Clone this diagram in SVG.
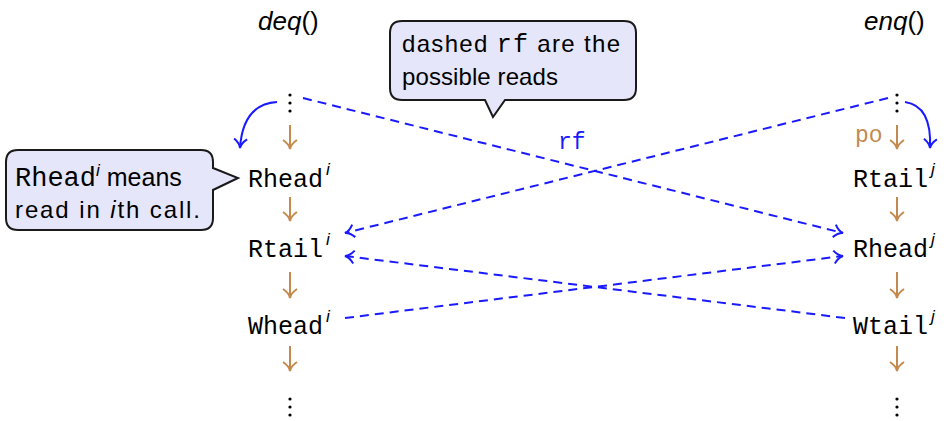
<svg xmlns="http://www.w3.org/2000/svg" width="946" height="421" viewBox="0 0 946 421">
<defs>
<marker id="ob" viewBox="0 0 16 16" refX="14" refY="8" markerWidth="16" markerHeight="16" markerUnits="userSpaceOnUse" orient="auto">
<path d="M5,1 Q9,7 14,8 Q9,9 5,15" fill="none" stroke="#c4894d" stroke-width="2"/>
</marker>
<marker id="bb" viewBox="0 0 16 16" refX="14" refY="8" markerWidth="16" markerHeight="16" markerUnits="userSpaceOnUse" orient="auto">
<path d="M5,1.5 Q9,7 14,8 Q9,9 5,14.5" fill="none" stroke="#1a1aff" stroke-width="2"/>
</marker>
</defs>
<style>
.tt{font-family:"Liberation Mono","DejaVu Sans Mono",monospace;font-size:25px;fill:#000}
.sf{font-family:"Liberation Sans","DejaVu Sans",sans-serif;font-size:24px;fill:#000}
.ti{font-family:"Liberation Sans","DejaVu Sans",sans-serif;font-size:26px;fill:#000}
.it{font-style:italic}
.sup{font-family:"Liberation Sans","DejaVu Sans",sans-serif;font-style:italic;font-size:17px}
.po{stroke:#c4894d;stroke-width:2;fill:none}
.rf{stroke:#1a1aff;stroke-width:2;fill:none;stroke-dasharray:9 6}
.cv{stroke:#1a1aff;stroke-width:2;fill:none}
.dot{fill:#000}
.call{fill:#e6e6fa;stroke:#1a1a1a;stroke-width:2}
</style>
<rect width="946" height="421" fill="#fff"/>

<g id="titles">
<text class="ti" x="258" y="30"><tspan class="it">deq</tspan>()</text>
<text class="ti" x="864" y="30"><tspan class="it">enq</tspan>()</text>
</g>

<g id="callout-rf">
<path class="call" d="M402,21 H624 Q636,21 636,33 V88 Q636,100 624,100 H505 L493,117 L485,100 H402 Q390,100 390,88 V33 Q390,21 402,21 Z"/>
<text class="sf" x="402" y="52" textLength="218">dashed <tspan class="tt">rf</tspan> are the</text>
<text class="sf" x="402" y="85" textLength="156">possible reads</text>
</g>

<g id="callout-rhead">
<path class="call" d="M18,150 H201 Q213,150 213,162 V168 L238,178 L213,190 V218 Q213,230 201,230 H18 Q6,230 6,218 V162 Q6,150 18,150 Z"/>
<text class="sf" x="15" y="186"><tspan class="tt" style="font-size:27px">Rhead</tspan><tspan class="sup" dy="-10">i</tspan><tspan dy="10" style="font-size:25px"> means</tspan></text>
<text class="sf" x="15" y="218" textLength="185">read in <tspan class="it">i</tspan>th call.</text>
</g>

<g id="left-top-dots">
<circle class="dot" cx="290" cy="95" r="1.6"/><circle class="dot" cx="290" cy="103" r="1.6"/><circle class="dot" cx="290" cy="111" r="1.6"/>
</g>
<g id="rhead-i"><text class="tt" x="248" y="187">Rhead</text><text class="sup" x="326" y="175">i</text></g>
<g id="rtail-i"><text class="tt" x="248" y="257">Rtail</text><text class="sup" x="326" y="245">i</text></g>
<g id="whead-i"><text class="tt" x="248" y="334">Whead</text><text class="sup" x="326" y="322">i</text></g>
<g id="left-bottom-dots">
<circle class="dot" cx="290" cy="399" r="1.6"/><circle class="dot" cx="290" cy="407" r="1.6"/><circle class="dot" cx="290" cy="415" r="1.6"/>
</g>

<g id="right-top-dots">
<circle class="dot" cx="897" cy="95" r="1.6"/><circle class="dot" cx="897" cy="103" r="1.6"/><circle class="dot" cx="897" cy="111" r="1.6"/>
</g>
<g id="rtail-j"><text class="tt" x="853" y="187">Rtail</text><text class="sup" x="931" y="175">j</text></g>
<g id="rhead-j"><text class="tt" x="853" y="257">Rhead</text><text class="sup" x="931" y="245">j</text></g>
<g id="wtail-j"><text class="tt" x="853" y="334">Wtail</text><text class="sup" x="931" y="322">j</text></g>
<g id="right-bottom-dots">
<circle class="dot" cx="897" cy="399" r="1.6"/><circle class="dot" cx="897" cy="407" r="1.6"/><circle class="dot" cx="897" cy="415" r="1.6"/>
</g>

<g id="connectors">
<line class="po" x1="290" y1="125" x2="290" y2="149" marker-end="url(#ob)"/>
<line class="po" x1="290" y1="197" x2="290" y2="221" marker-end="url(#ob)"/>
<line class="po" x1="290" y1="272" x2="290" y2="298" marker-end="url(#ob)"/>
<line class="po" x1="290" y1="346" x2="290" y2="371" marker-end="url(#ob)"/>
<line class="po" x1="897" y1="125" x2="897" y2="149" marker-end="url(#ob)"/>
<line class="po" x1="897" y1="197" x2="897" y2="221" marker-end="url(#ob)"/>
<line class="po" x1="897" y1="272" x2="897" y2="298" marker-end="url(#ob)"/>
<line class="po" x1="897" y1="346" x2="897" y2="371" marker-end="url(#ob)"/>
<text class="tt" x="855" y="142" style="fill:#c4894d;font-size:23px">po</text>

<path class="cv" d="M277,102 Q243,104 240,148" marker-end="url(#bb)"/>
<path class="cv" d="M905,102 Q932,106 930,148" marker-end="url(#bb)"/>

<line class="rf" x1="303" y1="98" x2="843" y2="233" marker-end="url(#bb)"/>
<line class="rf" x1="888" y1="98" x2="345" y2="233" marker-end="url(#bb)"/>
<line class="rf" x1="845" y1="318" x2="345" y2="256" marker-end="url(#bb)"/>
<line class="rf" x1="345" y1="318" x2="843" y2="256" marker-end="url(#bb)"/>
<text class="tt" x="558" y="149" style="fill:#1a1aff;font-size:23px">rf</text>
</g>
</svg>
